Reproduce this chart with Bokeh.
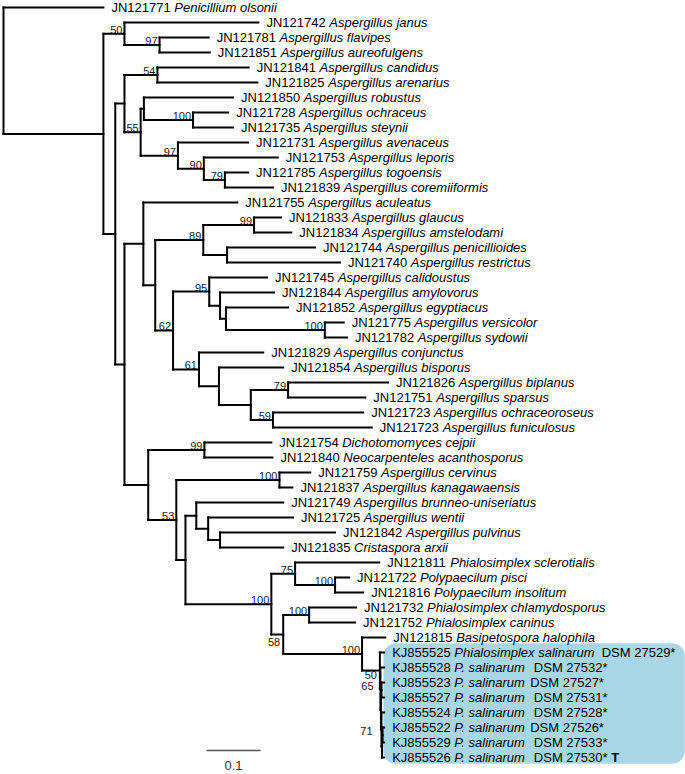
from bokeh.plotting import figure
from bokeh.models import ColumnDataSource, Range1d, BoxAnnotation
from bokeh.core.properties import value
from bokeh.embed import file_html
from bokeh.resources import INLINE

# ---------------- data ----------------
leaf_acc = ["JN121771", "JN121742", "JN121781", "JN121851", "JN121841", "JN121825", "JN121850",
            "JN121728", "JN121735", "JN121731", "JN121753", "JN121785", "JN121839", "JN121755",
            "JN121833", "JN121834", "JN121744", "JN121740", "JN121745", "JN121844", "JN121852",
            "JN121775", "JN121782", "JN121829", "JN121854", "JN121826", "JN121751", "JN121723",
            "JN121723", "JN121754", "JN121840", "JN121759", "JN121837", "JN121749", "JN121725",
            "JN121842", "JN121835", "JN121811", "JN121722", "JN121816", "JN121732", "JN121752",
            "JN121815", "KJ855525", "KJ855528", "KJ855523", "KJ855527", "KJ855524", "KJ855522",
            "KJ855529", "KJ855526"]
leaf_species = ["Penicillium olsonii", "Aspergillus janus", "Aspergillus flavipes",
                "Aspergillus aureofulgens", "Aspergillus candidus", "Aspergillus arenarius",
                "Aspergillus robustus", "Aspergillus ochraceus", "Aspergillus steynii",
                "Aspergillus avenaceus", "Aspergillus leporis", "Aspergillus togoensis",
                "Aspergillus coremiiformis", "Aspergillus aculeatus", "Aspergillus glaucus",
                "Aspergillus amstelodami", "Aspergillus penicillioides", "Aspergillus restrictus",
                "Aspergillus calidoustus", "Aspergillus amylovorus", "Aspergillus egyptiacus",
                "Aspergillus versicolor", "Aspergillus sydowii", "Aspergillus conjunctus",
                "Aspergillus bisporus", "Aspergillus biplanus", "Aspergillus sparsus",
                "Aspergillus ochraceoroseus", "Aspergillus funiculosus", "Dichotomomyces cejpii",
                "Neocarpenteles acanthosporus", "Aspergillus cervinus", "Aspergillus kanagawaensis",
                "Aspergillus brunneo-uniseriatus", "Aspergillus wentii", "Aspergillus pulvinus",
                "Cristaspora arxii", "Phialosimplex sclerotialis", "Polypaecilum pisci",
                "Polypaecilum insolitum", "Phialosimplex chlamydosporus", "Phialosimplex caninus",
                "Basipetospora halophila", "Phialosimplex salinarum", "P. salinarum",
                "P. salinarum", "P. salinarum", "P. salinarum", "P. salinarum", "P. salinarum",
                "P. salinarum"]
leaf_suffix = [""] * 43 + ["  DSM 27529*", "  DSM 27532*", " DSM 27527*", "  DSM 27531*",
                           "  DSM 27528*", " DSM 27526*", "  DSM 27533*", "  DSM 27530*"]
leaf_mark = [""] * 50 + ["T"]
leaf_parent = ["R", "B", "B97", "B97", "n54", "n54", "nRob", "n100a", "n100a", "n97b",
               "n90", "n79a", "n79a", "F", "n99a", "n99a", "nPen", "nPen", "n95", "I",
               "J", "n100b", "n100b", "n61", "K", "n79b", "n79b", "n59", "n59", "n99b",
               "n99b", "n100c", "n100c", "P", "Q", "R2", "R2", "T", "U", "U",
               "W", "W", "X", "Y", "Z", "n65", "n65", "Z3", "n71", "n71", "Z4"]
leaf_length = [0.185, 0.248, 0.091, 0.093, 0.169, 0.185, 0.165, 0.065, 0.074, 0.130,
               0.137, 0.043, 0.089, 0.174, 0.050, 0.069, 0.163, 0.209, 0.107, 0.100,
               0.115, 0.035, 0.041, 0.119, 0.119, 0.185, 0.143, 0.167, 0.183, 0.124,
               0.126, 0.057, 0.024, 0.161, 0.157, 0.213, 0.117, 0.156, 0.026, 0.052,
               0.087, 0.085, 0.043, 0.008, 0.007, 0.005, 0.005, 0.005, 0.003, 0.003, 0.004]

node_name = ["R", "A", "B", "B97", "C", "D", "n54", "n55", "nRob", "n100a",
             "n97b", "n90", "n79a", "E", "F", "G", "n89", "n99a", "nPen", "H",
             "n95", "I", "J", "n100b", "n61", "K", "L", "n79b", "n59", "M",
             "n99b", "N", "n100c", "O", "P", "Q", "R2", "S", "T", "U",
             "V", "W", "X", "Y", "Z", "Z2", "n65", "Z3", "Z4", "n71"]
node_parent = [None, "R", "A", "B", "A", "C", "D", "D", "n55", "nRob",
               "n55", "n97b", "n90", "C", "E", "F", "G", "n89", "n89", "G",
               "H", "n95", "I", "J", "H", "n61", "K", "L", "L", "E",
               "M", "M", "N", "N", "O", "P", "Q", "O", "S", "T",
               "S", "V", "V", "X", "Y", "Z", "Z2", "Z2", "Z3", "Z4"]
node_length = [0.0, 0.185, 0.039, 0.065, 0.022, 0.017, 0.061, 0.030, 0.006, 0.091,
               0.069, 0.048, 0.039, 0.017, 0.035, 0.022, 0.089, 0.094, 0.044, 0.033,
               0.067, 0.020, 0.011, 0.183, 0.048, 0.037, 0.059, 0.069, 0.041, 0.044,
               0.104, 0.052, 0.191, 0.017, 0.020, 0.022, 0.022, 0.159, 0.044, 0.074,
               0.022, 0.048, 0.146, 0.033, 0.001, 0.001, 0.001, 0.001, 0.001, 0.001]
node_support = ["", "", "50", "97", "", "", "54", "55", "", "100",
                "97", "90", "79", "", "", "", "89", "99", "", "62",
                "95", "", "", "100", "61", "", "", "79", "59", "",
                "99", "53", "100", "", "", "", "", "100", "75", "100",
                "58", "100", "100", "50", "", "", "65", "", "", "71"]
support_below = ["V", "Y"]
highlight_clade = "Y"
scale_length = 0.1
scale_label = "0.1"

# ---------------- text metrics (Arial / Liberation Sans, per 1000 em) ----------------
CW = {' ': 278, '.': 278, '*': 389, '-': 333, 'A': 667, 'B': 667, 'C': 722, 'D': 722,
      'J': 500, 'K': 667, 'M': 833, 'N': 722, 'P': 667, 'S': 667, 'T': 611,
      'a': 556, 'b': 556, 'c': 500, 'd': 556, 'e': 556, 'f': 278, 'g': 556, 'h': 556,
      'i': 222, 'j': 222, 'k': 500, 'l': 222, 'm': 833, 'n': 556, 'o': 556, 'p': 556,
      'q': 556, 'r': 333, 's': 500, 't': 278, 'u': 556, 'v': 500, 'w': 722, 'x': 500,
      'y': 500, 'z': 500}


def tw(s, size):
    return sum(CW.get(c, 556) for c in s) * size / 1000.0


LEAF_FS = 13
SUP_FS = 11
GAP = 8
# label placement tweaks inside the crowded salinarum clade (screen px / row units)
label_dx = {"n65": -8, "n71": -10, "Y": -3, "V": -3}
label_dy = {"V": 0.2, "Y": 0.02}

# ---------------- layout ----------------
idx = {n: i for i, n in enumerate(node_name)}
node_x = {}


def get_x(n):
    if n not in node_x:
        i = idx[n]
        p = node_parent[i]
        node_x[n] = 0.0 if p is None else get_x(p) + node_length[i]
    return node_x[n]


for n in node_name:
    get_x(n)
leaf_x = [node_x[p] + l for p, l in zip(leaf_parent, leaf_length)]

children = {n: [] for n in node_name}
for i, n in enumerate(node_name):
    if node_parent[i] is not None:
        children[node_parent[i]].append(("n", n))
for j, p in enumerate(leaf_parent):
    children[p].append(("l", j))

node_y, node_span = {}, {}


def get_y(n):
    if n not in node_y:
        ys = [get_y(c) if t == "n" else float(c) for t, c in children[n]]
        node_span[n] = (min(ys), max(ys))
        node_y[n] = (min(ys) + max(ys)) / 2.0
    return node_y[n]


get_y("R")

x0, y0, x1, y1 = [], [], [], []
for i, n in enumerate(node_name):
    p = node_parent[i]
    if p is not None:
        x0.append(node_x[p]); x1.append(node_x[n]); y0.append(node_y[n]); y1.append(node_y[n])
    lo, hi = node_span[n]
    x0.append(node_x[n]); x1.append(node_x[n]); y0.append(lo); y1.append(hi)
for j, p in enumerate(leaf_parent):
    x0.append(node_x[p]); x1.append(leaf_x[j]); y0.append(j); y1.append(j)

# ---------------- figure ----------------
W, H = 685, 774
PXU = 540.0
xs = -3.0 / PXU
xe = xs + W / PXU
LSP = 15.0
ytop = -7.0 / LSP
ybot = ytop + H / LSP

p = figure(width=W, height=H, x_range=Range1d(xs, xe), y_range=Range1d(ybot, ytop),
           output_backend="svg", toolbar_location=None, min_border=0,
           x_axis_type=None, y_axis_type=None)
p.grid.visible = False
p.outline_line_color = None


def clade_leaves(n):
    out = []
    for t, c in children[n]:
        out += clade_leaves(c) if t == "n" else [c]
    return out


cl = clade_leaves(highlight_clade)
box = BoxAnnotation(left=max(leaf_x[j] for j in cl) - 0.5 / PXU, right=xe - 1.0 / PXU,
                    top=min(cl) - 0.6, bottom=max(cl) + 0.4,
                    fill_color="#a9d6e5", fill_alpha=1.0, line_color="#9dcbdc",
                    line_width=1, border_radius=12, level="underlay")
p.add_layout(box)

p.segment(x0=x0, y0=y0, x1=x1, y1=y1, line_color="black", line_width=2, line_cap="square")

FONT = value("Liberation Sans")

sp_off = [GAP + tw(a + " ", LEAF_FS) for a in leaf_acc]
leaf_src = ColumnDataSource(dict(x=leaf_x, y=list(range(len(leaf_acc))), acc=leaf_acc,
                                 sp=leaf_species, spo=sp_off))
p.text(x="x", y="y", text="acc", source=leaf_src, x_offset=GAP, text_font=FONT,
       text_font_size=f"{LEAF_FS}px", text_baseline="middle", text_align="left", text_color="black")
p.text(x="x", y="y", text="sp", source=leaf_src, x_offset="spo", text_font=FONT,
       text_font_size=f"{LEAF_FS}px", text_font_style="italic", text_baseline="middle",
       text_align="left", text_color="black")

sx, sy, st, so, mx, my, mt, mo = [], [], [], [], [], [], [], []
for j, s in enumerate(leaf_suffix):
    if s:
        lead = len(s) - len(s.lstrip(" "))
        off = sp_off[j] + tw(leaf_species[j] + " " * lead, LEAF_FS)
        sx.append(leaf_x[j]); sy.append(j); st.append(s.strip()); so.append(off)
        if leaf_mark[j]:
            mx.append(leaf_x[j]); my.append(j); mt.append(leaf_mark[j])
            mo.append(off + tw(s.strip() + " ", LEAF_FS))
p.text(x=sx, y=sy, text=st, x_offset=so, text_font=FONT, text_font_size=f"{LEAF_FS}px",
       text_baseline="middle", text_align="left", text_color="black")
p.text(x=mx, y=my, text=mt, x_offset=mo, text_font=FONT, text_font_size=f"{LEAF_FS}px",
       text_font_style="bold", text_baseline="middle", text_align="left", text_color="black")

a_src = dict(x=[], y=[], t=[], dx=[])
b_src = dict(x=[], y=[], t=[], dx=[])
for n, s in zip(node_name, node_support):
    if not s:
        continue
    d = b_src if n in support_below else a_src
    d["x"].append(node_x[n]); d["y"].append(node_y[n] + label_dy.get(n, 0.0))
    d["t"].append(s); d["dx"].append(label_dx.get(n, -2))
p.text(x="x", y="y", text="t", x_offset="dx", source=ColumnDataSource(a_src), text_font=FONT,
       text_font_size=f"{SUP_FS}px", text_align="right", text_baseline="bottom", text_color="#1a1a1a")
p.text(x="x", y="y", text="t", x_offset="dx", source=ColumnDataSource(b_src), text_font=FONT,
       text_font_size=f"{SUP_FS}px", text_align="right", text_baseline="top", text_color="#1a1a1a")

# scale bar
n_leaf = len(leaf_acc)
sb_x = 0.376
p.segment(x0=[sb_x], y0=[n_leaf - 1.47], x1=[sb_x + scale_length], y1=[n_leaf - 1.47],
          line_color="#555555", line_width=1.5)
p.text(x=[sb_x + scale_length / 2], y=[n_leaf - 0.45], text=[scale_label], text_font=FONT,
       text_font_size=f"{LEAF_FS}px", text_align="center", text_baseline="middle", text_color="#333333")

open("out.html", "w").write(file_html(p, INLINE))
